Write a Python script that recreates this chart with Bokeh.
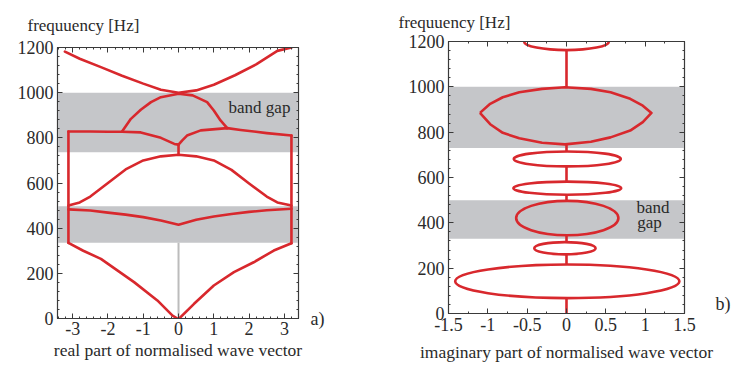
from bokeh.plotting import figure
from bokeh.models import (BoxAnnotation, Label, LinearAxis, SingleIntervalTicker, Range1d,
                          FixedTicker)
from bokeh.embed import file_html
from bokeh.resources import INLINE

RED = "#d8282d"
BAND = "#c5c6c9"
SERIF = "Liberation Serif"
TXT = "#2a2a2a"
FRAME = "#3a3a3a"

# ---------------- data ----------------
freq_ticks = [0, 200, 400, 600, 800, 1000, 1200]
re_ticks = [-3, -2, -1, 0, 1, 2, 3]
re_tick_labels = ["-3", "-2", "-1", "0", "1", "2", "3"]
im_ticks = [-1.5, -1, -0.5, 0, 0.5, 1, 1.5]
im_tick_labels = ["-1.5", "-1", "-0.5", "0", "0.5", "1", "1.5"]

gap_lo_a = [335, 736]
gap_hi_a = [497, 1000]
gap_lo_b = [330, 730]
gap_hi_b = [500, 1000]

# (a) real part of normalised wave vector
b1L_x = [-3.12, -2.7, -2.2, -1.26, -0.6, -0.17, -0.03]
b1L_y = [335, 300, 264, 161, 80, 13, 0]
b1R_x = [0.02, 0.44, 1.0, 1.57, 2.13, 2.7, 3.2]
b1R_y = [0, 65, 146, 205, 249, 301, 333]

b2_x = [-3.12, -2.5, -2.0, -1.5, -1.0, -0.5, 0.0, 0.5, 1.0, 1.5, 2.0, 2.5, 3.2]
b2_y = [483, 478, 469, 460, 449, 434, 415, 437, 452, 463, 472, 479, 486]

edgeL_x = [-3.12, -3.12]
edgeL_y = [335, 828]
edgeR_x = [3.2, 3.2]
edgeR_y = [333, 810]

b3_x = [-3.12, -2.8, -2.5, -2.0, -1.5, -1.0, -0.5, 0.0, 0.5, 1.0, 1.5, 2.0, 2.5, 2.8, 3.2]
b3_y = [500, 514, 540, 600, 660, 700, 718, 725, 718, 700, 658, 598, 540, 514, 500]

stem_x = [0, 0]
stem_y = [725, 770]

b4L_x = [-3.12, -2.5, -2.0, -1.6, -1.07, -0.5, -0.12, 0.0]
b4L_y = [828, 828, 827, 827, 824, 800, 773, 770]
b4R_x = [0.0, 0.1, 0.24, 0.63, 1.38, 1.76, 2.5, 3.2]
b4R_y = [770, 788, 810, 833, 843, 835, 821, 810]

b5_x = [-1.6, -1.35, -1.07, -0.78, -0.5, 0.0, 0.4, 0.81, 1.0, 1.19, 1.38]
b5_y = [828, 884, 924, 958, 980, 995, 988, 958, 921, 877, 843]

b6_x = [-3.22, -2.8, -2.2, -1.6, -1.0, -0.5, 0.0, 0.5, 1.0, 1.6, 2.2, 2.8, 3.2]
b6_y = [1182, 1150, 1113, 1075, 1040, 1013, 1000, 1010, 1035, 1077, 1125, 1185, 1200]

zero_line_x = [0, 0]
zero_line_y = [0, 335]

# (b) imaginary part: big lens-shaped loop
lens_x = [-1.10, -0.97, -0.81, -0.60, -0.31, -0.02, 0.31, 0.56, 0.81, 0.97, 1.08,
          0.97, 0.81, 0.56, 0.31, -0.02, -0.31, -0.60, -0.81, -0.97, -1.10]
lens_y = [885, 925, 954, 976, 991, 998, 991, 976, 947, 917, 885,
          844, 807, 777, 758, 746, 753, 773, 797, 835, 885]

# other loops (centre, full width, full height)
loop_x = [0.0, 0.01, 0.01, 0.01, -0.02, 0.01]
loop_y = [1200, 682, 553, 421, 288, 142]
loop_w = [1.08, 1.36, 1.37, 1.30, 0.78, 2.85]
loop_h = [76, 66, 58, 152, 54, 148]

stem_bottoms = [998, 715, 582, 497, 315, 216, 0]
stem_tops = [1162, 746, 649, 524, 345, 261, 68]

# panel tags and where they sit (value on the frequency axis)
tag_a, tag_a_freq = "a)", 0
tag_b, tag_b_freq = "b)", 43


def style(p, xinterval, xminor, tag, tag_freq, tag_standoff, overrides):
    p.outline_line_color = FRAME
    p.outline_line_width = 1.2
    p.grid.visible = False
    xb = p.below[0]
    yl = p.left[0]
    xb.ticker = SingleIntervalTicker(interval=xinterval, num_minor_ticks=xminor)
    yl.ticker = SingleIntervalTicker(interval=200, num_minor_ticks=5)
    top = LinearAxis(ticker=SingleIntervalTicker(interval=xinterval, num_minor_ticks=xminor))
    rgt = LinearAxis(ticker=SingleIntervalTicker(interval=200, num_minor_ticks=5))
    for ax in (top, rgt):
        ax.major_label_text_font_size = "1px"
        ax.major_label_text_color = None
        ax.major_label_standoff = 0
        ax.axis_label_standoff = 0
    p.add_layout(top, "above")
    p.add_layout(rgt, "right")
    for ax in (xb, yl, top, rgt):
        ax.axis_line_color = FRAME
        ax.major_tick_in = 5
        ax.major_tick_out = 0
        ax.minor_tick_in = 2
        ax.minor_tick_out = 0
        ax.major_tick_line_color = FRAME
        ax.minor_tick_line_color = FRAME
    tg = LinearAxis(ticker=FixedTicker(ticks=[tag_freq], minor_ticks=[]),
                    major_label_overrides={tag_freq: tag})
    tg.axis_line_color = None
    tg.major_tick_line_color = None
    tg.minor_tick_line_color = None
    tg.major_label_standoff = tag_standoff
    tg.major_label_text_font = SERIF
    tg.major_label_text_font_size = "18px"
    tg.major_label_text_color = TXT
    p.add_layout(tg, "right")
    for ax in (xb, yl):
        ax.major_label_text_font = SERIF
        ax.major_label_text_font_size = "18px"
        ax.major_label_text_color = TXT
        ax.axis_label_text_font = SERIF
        ax.axis_label_text_font_size = "17.5px"
        ax.axis_label_text_font_style = "normal"
        ax.axis_label_text_color = TXT
        ax.major_label_standoff = 4
    xb.major_label_overrides = overrides
    p.title.text_font = SERIF
    p.title.text_font_size = "17px"
    p.title.text_font_style = "normal"
    p.title.text_color = TXT
    p.title.align = "left"
    p.title.vertical_align = "top"
    return xb


# ---------------- panel a ----------------
pa = figure(width=379, height=367, x_range=Range1d(-3.43, 3.40), y_range=Range1d(0, 1200),
            output_backend="svg", toolbar_location=None,
            min_border_left=57, min_border_right=81, min_border_top=47, min_border_bottom=49,
            title="frequuency [Hz]", x_axis_label="real part of normalised wave vector")
xa = style(pa, 1, 5, tag_a, tag_a_freq, 6,
           {t: s for t, s in zip(re_ticks, re_tick_labels)})
xa.major_label_standoff = 3
xa.axis_label_standoff = 2
pa.title.offset = -30
pa.title.standoff = 21
for lo, hi in zip(gap_lo_a, gap_hi_a):
    pa.add_layout(BoxAnnotation(bottom=lo, top=hi, fill_color=BAND, fill_alpha=1,
                                line_color=None, level="underlay"))
pa.line(zero_line_x, zero_line_y, line_color="#bcbcbc", line_width=2)
for xs, ys in [(b1L_x, b1L_y), (b1R_x, b1R_y), (b2_x, b2_y), (edgeL_x, edgeL_y),
               (edgeR_x, edgeR_y), (b3_x, b3_y), (stem_x, stem_y), (b4L_x, b4L_y),
               (b4R_x, b4R_y), (b5_x, b5_y), (b6_x, b6_y)]:
    pa.line(xs, ys, line_color=RED, line_width=2.6, line_join="round", line_cap="round")
pa.add_layout(Label(x=3.17, y=935, text="band gap", text_align="right", text_baseline="middle",
                    text_font=SERIF, text_font_size="17px", text_color=TXT))

# ---------------- panel b ----------------
pb = figure(width=354, height=367, x_range=Range1d(-1.5, 1.5), y_range=Range1d(0, 1200),
            output_backend="svg", toolbar_location=None,
            min_border_left=69, min_border_right=43, min_border_top=41, min_border_bottom=54,
            title="frequuency [Hz]", x_axis_label="imaginary part of normalised wave vector")
xbb = style(pb, 0.5, 2, tag_b, tag_b_freq, 25,
            {t: s for t, s in zip(im_ticks, im_tick_labels)})
xbb.axis_label_standoff = 8
pb.title.offset = -50
pb.title.standoff = 16
for lo, hi in zip(gap_lo_b, gap_hi_b):
    pb.add_layout(BoxAnnotation(bottom=lo, top=hi, fill_color=BAND, fill_alpha=1,
                                line_color=None, level="underlay"))
pb.segment(x0=[0] * len(stem_bottoms), y0=stem_bottoms, x1=[0] * len(stem_tops), y1=stem_tops,
           line_color=RED, line_width=2.6)
pb.line(lens_x, lens_y, line_color=RED, line_width=2.6, line_join="round")
pb.ellipse(x=loop_x, y=loop_y, width=loop_w, height=loop_h, fill_color=None,
           line_color=RED, line_width=2.6)
pb.add_layout(Label(x=0.89, y=467, text="band", text_align="left", text_baseline="middle",
                    text_font=SERIF, text_font_size="17px", text_color=TXT))
pb.add_layout(Label(x=0.9, y=400, text="gap", text_align="left", text_baseline="middle",
                    text_font=SERIF, text_font_size="17px", text_color=TXT))

# two independent roots placed side by side, so each panel keeps its own frame position
html = file_html([pa, pb], INLINE)
html = html.replace("</head>",
                    "<style>body { display: flex !important; align-items: flex-start; }</style></head>", 1)
open("out.html", "w").write(html)
